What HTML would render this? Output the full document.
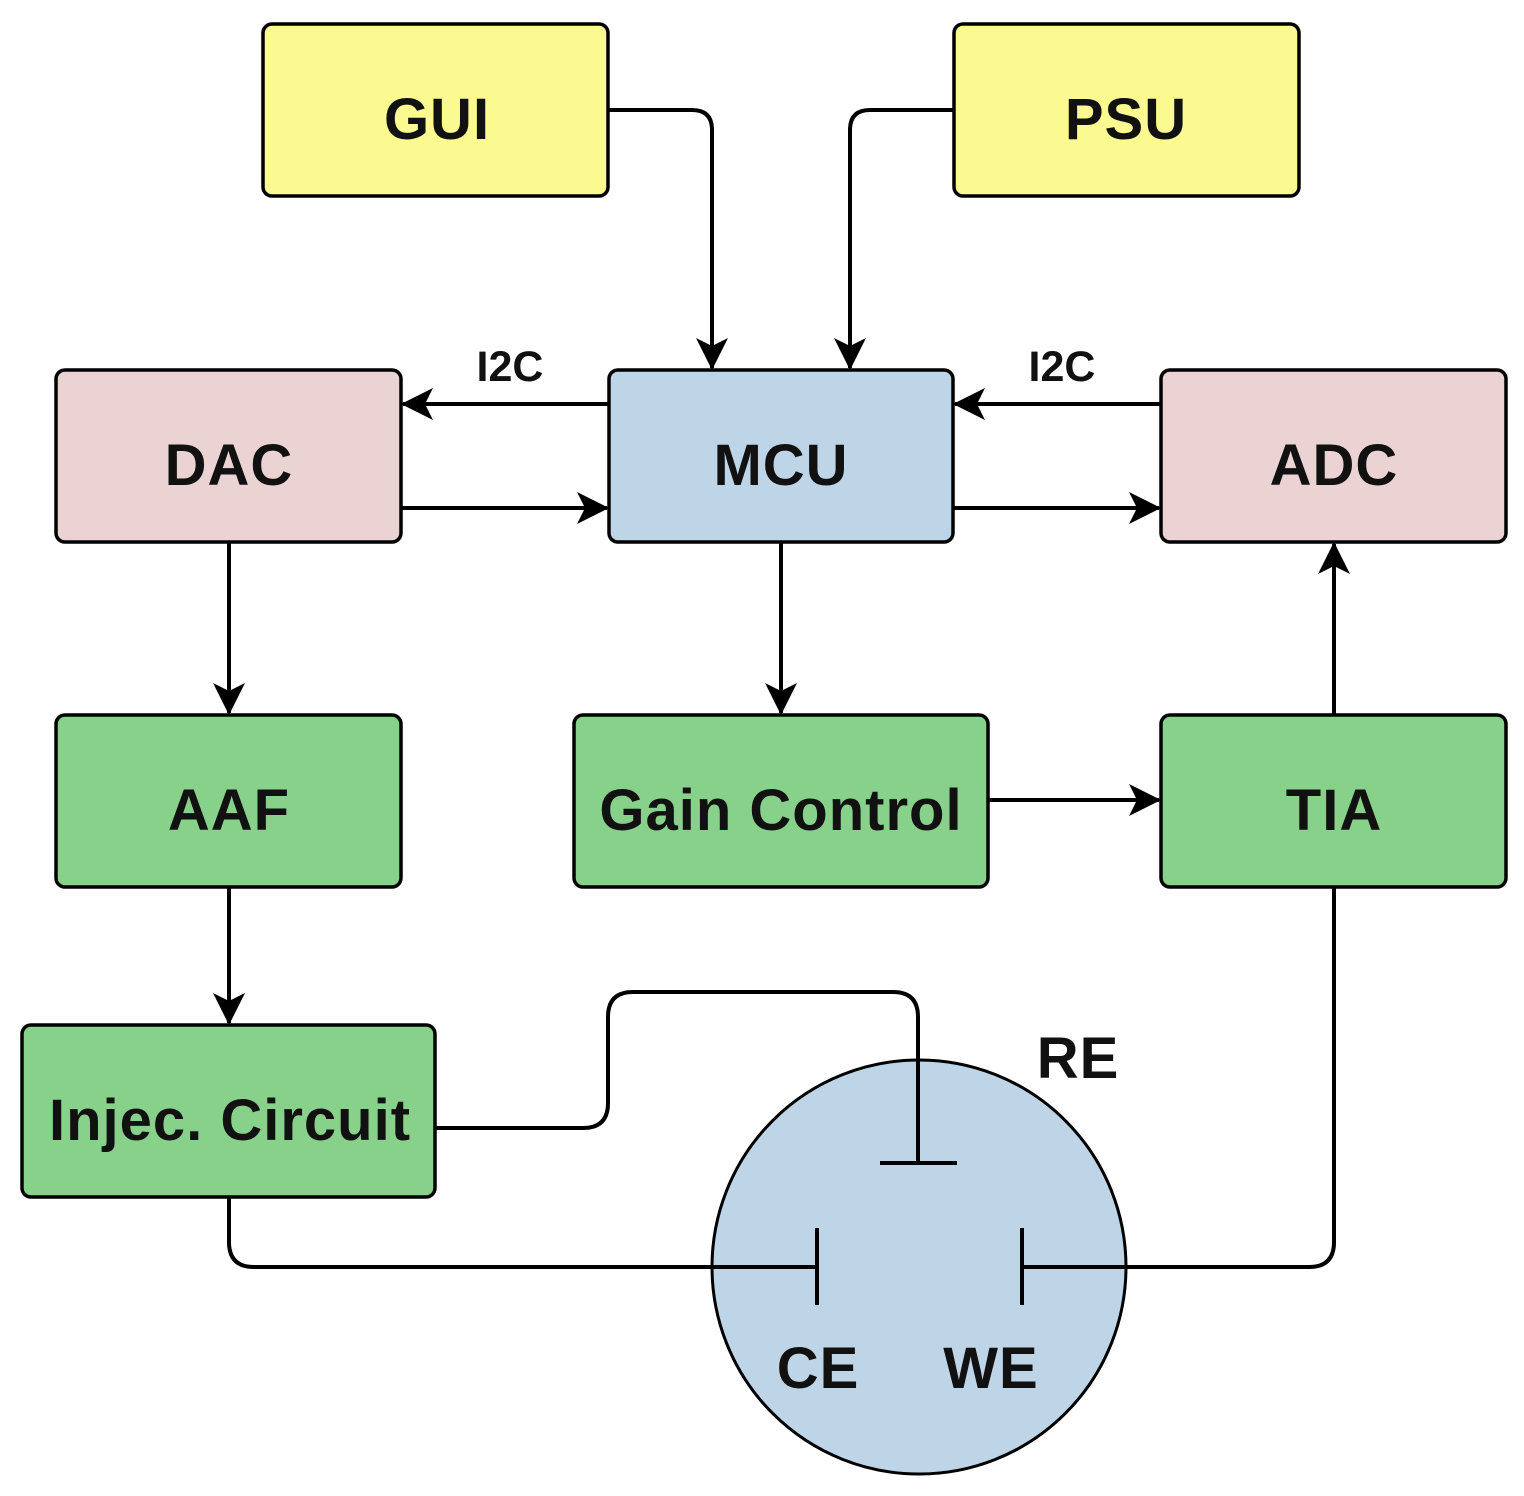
<!DOCTYPE html>
<html><head><meta charset="utf-8"><style>
html,body{margin:0;padding:0;background:#fff;}
svg{display:block;}
text{font-family:"Liberation Sans",Arial,sans-serif;font-weight:bold;fill:#111;}
</style></head><body>
<svg width="1524" height="1496" viewBox="0 0 1524 1496" xmlns="http://www.w3.org/2000/svg">
<defs>
<marker id="a" markerUnits="userSpaceOnUse" markerWidth="40" markerHeight="40" viewBox="0 0 40 40" refX="32" refY="20" orient="auto">
<path d="M2,4 L34,20 L2,36 L10,20 Z" fill="#000"/>
</marker>
</defs>
<g stroke="#000" stroke-width="3.5">
<rect x="263" y="24" width="345" height="172" rx="9" fill="#fafa90"/>
<rect x="954" y="24" width="345" height="172" rx="9" fill="#fafa90"/>
<rect x="56" y="370" width="345" height="172" rx="9" fill="#ecd3d3"/>
<rect x="609" y="370" width="344" height="172" rx="9" fill="#bed4e7"/>
<rect x="1161" y="370" width="345" height="172" rx="9" fill="#ecd3d3"/>
<rect x="56" y="715" width="345" height="172" rx="9" fill="#88d18a"/>
<rect x="574" y="715" width="414" height="172" rx="9" fill="#88d18a"/>
<rect x="1161" y="715" width="345" height="172" rx="9" fill="#88d18a"/>
<rect x="22" y="1025" width="413" height="172" rx="9" fill="#88d18a"/>
<circle cx="919" cy="1267" r="207" fill="#bed4e7" stroke-width="3"/>
</g>
<g stroke="#000" stroke-width="4" fill="none">
<path d="M608,110 H692 Q712,110 712,130 V368" marker-end="url(#a)"/>
<path d="M954,110 H870 Q850,110 850,130 V368" marker-end="url(#a)"/>
<path d="M609,404 H403" marker-end="url(#a)"/>
<path d="M401,508 H607" marker-end="url(#a)"/>
<path d="M1161,404 H955" marker-end="url(#a)"/>
<path d="M953,508 H1159" marker-end="url(#a)"/>
<path d="M229,542 V713" marker-end="url(#a)"/>
<path d="M781,542 V713" marker-end="url(#a)"/>
<path d="M988,800 H1159" marker-end="url(#a)"/>
<path d="M1334,715 V544" marker-end="url(#a)"/>
<path d="M229,887 V1023" marker-end="url(#a)"/>
<path d="M435,1128 H583 Q608,1128 608,1103 V1017 Q608,992 633,992 H893 Q918,992 918,1017 V1163"/>
<path d="M880,1163 H957"/>
<path d="M229,1197 V1242 Q229,1267 254,1267 H817"/>
<path d="M817,1228 V1305"/>
<path d="M1334,887 V1242 Q1334,1267 1309,1267 H1022"/>
<path d="M1022,1228 V1305"/>
</g>
<g font-size="58" text-anchor="middle" letter-spacing="1">
<text x="437" y="139">GUI</text>
<text x="1126" y="139">PSU</text>
<text x="229" y="485">DAC</text>
<text x="781" y="485">MCU</text>
<text x="1334" y="485">ADC</text>
<text x="229" y="830">AAF</text>
<text x="781" y="830">Gain Control</text>
<text x="1334" y="830">TIA</text>
<text x="230" y="1140">Injec. Circuit</text>
<text x="1078" y="1078">RE</text>
<text x="818" y="1388">CE</text>
<text x="991" y="1388">WE</text>
</g>
<g font-size="43" text-anchor="middle">
<text x="510" y="381">I2C</text>
<text x="1062" y="381">I2C</text>
</g>
</svg>
</body></html>
